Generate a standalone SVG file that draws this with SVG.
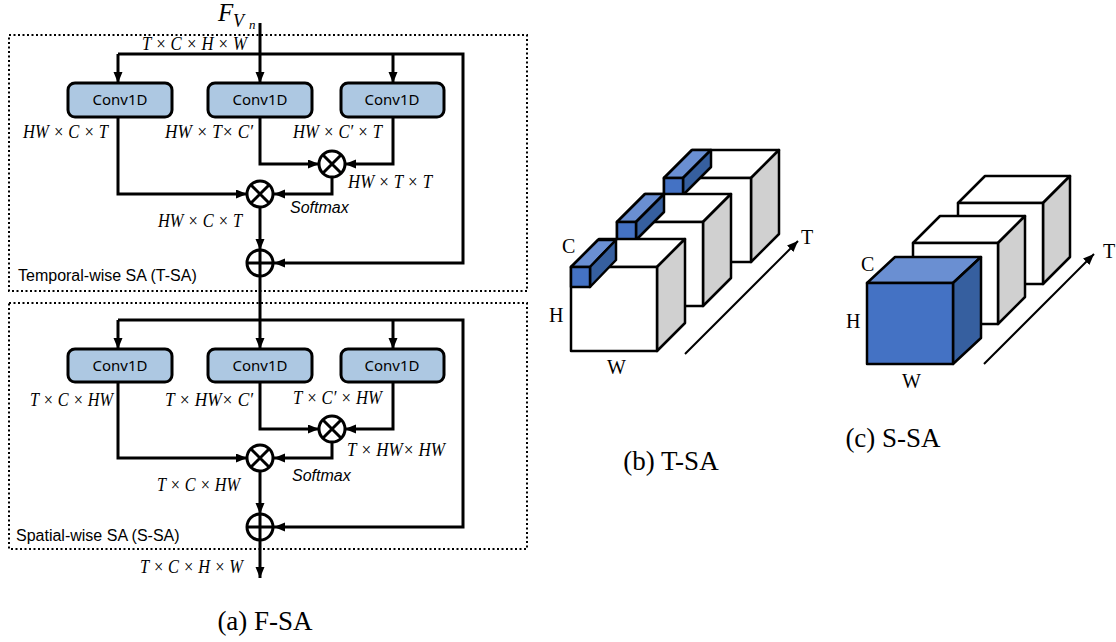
<svg xmlns="http://www.w3.org/2000/svg" width="1116" height="642" viewBox="0 0 1116 642">
<style>
.conv{fill:#adc8e2;stroke:#000;stroke-width:3}
.ct{font-family:"Noto Sans",sans-serif;font-size:15px;text-anchor:middle}
.m{font-family:"Liberation Serif",serif;font-style:italic;font-size:19px}
.sm{font-family:"Liberation Sans",sans-serif;font-style:italic;font-size:16px}
.sec{font-family:"Liberation Sans",sans-serif;font-size:16px}
.cap{font-family:"Liberation Serif",serif;font-size:27px;text-anchor:middle}
.lab{font-family:"Liberation Serif",serif;font-size:20px}
.ln{fill:none;stroke:#000;stroke-width:3}
.op{fill:#fff;stroke:#000;stroke-width:3}
.dot{fill:none;stroke:#000;stroke-width:2;stroke-dasharray:2 2.5}
.cf{fill:#fff;stroke:#000;stroke-width:2.5;stroke-linejoin:round}
.ctop{fill:#fff;stroke:#000;stroke-width:2.5;stroke-linejoin:round}
.cside{fill:#d0d0d0;stroke:#000;stroke-width:2.5;stroke-linejoin:round}
.bf{fill:#4472c4;stroke:#000;stroke-width:2.5;stroke-linejoin:round}
.bt{fill:#6a8fd2;stroke:#000;stroke-width:2.5;stroke-linejoin:round}
.bs{fill:#365f9f;stroke:#000;stroke-width:2.5;stroke-linejoin:round}
</style>
<defs>
<marker id="arr" markerUnits="userSpaceOnUse" markerWidth="12" markerHeight="10" refX="11" refY="4.5" orient="auto">
<path d="M0,0 L11,4.5 L0,9 z" fill="#000"/>
</marker>
<marker id="arr2" markerUnits="userSpaceOnUse" markerWidth="12" markerHeight="10" refX="11" refY="4.5" orient="auto">
<path d="M0,0 L11,4.5 L0,9 z" fill="#000"/>
</marker>
</defs>
<rect width="1116" height="642" fill="#fff"/>

<!-- (a) F-SA -->
<g id="tsa-box">
<rect class="dot" x="9" y="35" width="518" height="256"/>
<text class="sec" x="18" y="281">Temporal-wise SA (T-SA)</text>
</g>
<g id="ssa-box">
<rect class="dot" x="9" y="303" width="518" height="246"/>
<text class="sec" x="16" y="541">Spatial-wise SA (S-SA)</text>
</g>

<g id="input">
<text font-family="Liberation Serif,serif" font-style="italic" font-size="25" x="218" y="21">F</text>
<text font-family="Liberation Serif,serif" font-style="italic" font-size="18" x="233" y="27">V</text>
<text font-family="Liberation Serif,serif" font-style="italic" font-size="13" x="249" y="29">n</text>
</g>

<g id="connectors">
<path class="ln" d="M260,23 V83" marker-end="url(#arr)"/>
<path class="ln" d="M118,54 H463 V263 H274" marker-end="url(#arr)"/>
<path class="ln" d="M118,54 V83" marker-end="url(#arr)"/>
<path class="ln" d="M393,54 V83" marker-end="url(#arr)"/>
<path class="ln" d="M118,117 V194 H247" marker-end="url(#arr)"/>
<path class="ln" d="M260,117 V164 H319" marker-end="url(#arr)"/>
<path class="ln" d="M393,117 V164 H345" marker-end="url(#arr)"/>
<path class="ln" d="M332,177 V194 H274" marker-end="url(#arr)"/>
<path class="ln" d="M260,207 V250" marker-end="url(#arr)"/>
<path class="ln" d="M260,276 V349" marker-end="url(#arr)"/>
<path class="ln" d="M118,320 H463 V527 H274" marker-end="url(#arr)"/>
<path class="ln" d="M118,320 V349" marker-end="url(#arr)"/>
<path class="ln" d="M393,320 V349" marker-end="url(#arr)"/>
<path class="ln" d="M118,382 V458 H247" marker-end="url(#arr)"/>
<path class="ln" d="M260,382 V429 H319" marker-end="url(#arr)"/>
<path class="ln" d="M393,382 V429 H345" marker-end="url(#arr)"/>
<path class="ln" d="M332,442 V458 H274" marker-end="url(#arr)"/>
<path class="ln" d="M260,471 V514" marker-end="url(#arr)"/>
<path class="ln" d="M260,540 V578" marker-end="url(#arr)"/>
</g>

<g id="t-conv1"><rect class="conv" x="68" y="83" width="104" height="34" rx="7"/><text class="ct" x="120" y="105">Conv1D</text></g>
<g id="t-conv2"><rect class="conv" x="208" y="83" width="104" height="34" rx="7"/><text class="ct" x="260" y="105">Conv1D</text></g>
<g id="t-conv3"><rect class="conv" x="341" y="83" width="103" height="34" rx="7"/><text class="ct" x="392" y="105">Conv1D</text></g>
<g id="s-conv1"><rect class="conv" x="68" y="349" width="104" height="33" rx="7"/><text class="ct" x="120" y="371">Conv1D</text></g>
<g id="s-conv2"><rect class="conv" x="208" y="349" width="104" height="33" rx="7"/><text class="ct" x="260" y="371">Conv1D</text></g>
<g id="s-conv3"><rect class="conv" x="341" y="349" width="103" height="33" rx="7"/><text class="ct" x="392" y="371">Conv1D</text></g>

<g id="t-mul1"><circle class="op" cx="332" cy="164" r="13"/><path class="ln" d="M323,155 L341,173 M341,155 L323,173"/></g>
<g id="t-mul2"><circle class="op" cx="260" cy="194" r="13"/><path class="ln" d="M251,185 L269,203 M269,185 L251,203"/></g>
<g id="t-add"><circle class="op" cx="260" cy="263" r="13"/><path class="ln" d="M247,263 H273 M260,250 V276"/></g>
<g id="s-mul1"><circle class="op" cx="332" cy="429" r="13"/><path class="ln" d="M323,420 L341,438 M341,420 L323,438"/></g>
<g id="s-mul2"><circle class="op" cx="260" cy="458" r="13"/><path class="ln" d="M251,449 L269,467 M269,449 L251,467"/></g>
<g id="s-add"><circle class="op" cx="260" cy="527" r="13"/><path class="ln" d="M247,527 H273 M260,514 V540"/></g>

<g id="labels">
<text class="m" x="142" y="50" textLength="105" lengthAdjust="spacingAndGlyphs">T × C × H × W</text>
<text class="m" x="23" y="138" textLength="85" lengthAdjust="spacingAndGlyphs">HW × C × T</text>
<text class="m" x="165" y="138" textLength="88" lengthAdjust="spacingAndGlyphs">HW × T× C′</text>
<text class="m" x="293" y="138" textLength="89" lengthAdjust="spacingAndGlyphs">HW × C′ × T</text>
<text class="m" x="348" y="188" textLength="84" lengthAdjust="spacingAndGlyphs">HW × T × T</text>
<text class="sm" x="290" y="213">Softmax</text>
<text class="m" x="158" y="227" textLength="84" lengthAdjust="spacingAndGlyphs">HW × C × T</text>
<text class="m" x="30" y="406" textLength="83" lengthAdjust="spacingAndGlyphs">T × C × HW</text>
<text class="m" x="165" y="406" textLength="88" lengthAdjust="spacingAndGlyphs">T × HW× C′</text>
<text class="m" x="293" y="404" textLength="89" lengthAdjust="spacingAndGlyphs">T × C′ × HW</text>
<text class="m" x="347" y="456" textLength="98" lengthAdjust="spacingAndGlyphs">T × HW× HW</text>
<text class="sm" x="292" y="481">Softmax</text>
<text class="m" x="157" y="491" textLength="83" lengthAdjust="spacingAndGlyphs">T × C × HW</text>
<text class="m" x="140" y="573" textLength="103" lengthAdjust="spacingAndGlyphs">T × C × H × W</text>
<text class="cap" x="265" y="630">(a) F-SA</text>
</g>

<!-- (b) T-SA -->
<g id="tsa-cube3">
<polygon class="ctop" points="664,178 692,150 779,150 751,178"/>
<polygon class="cside" points="751,178 779,150 779,234 751,262"/>
<rect class="cf" x="664" y="178" width="87" height="84"/>
<polygon class="bt" points="664,178 692,150 711,150 683,178"/>
<polygon class="bs" points="683,178 711,150 711,167 683,195"/>
<rect class="bf" x="664" y="178" width="19" height="17"/>
</g>
<g id="tsa-cube2">
<polygon class="ctop" points="617,222 645,194 731,194 703,222"/>
<polygon class="cside" points="703,222 731,194 731,278 703,306"/>
<rect class="cf" x="617" y="222" width="86" height="84"/>
<polygon class="bt" points="617,222 645,194 664,194 636,222"/>
<polygon class="bs" points="636,222 664,194 664,212 636,240"/>
<rect class="bf" x="617" y="222" width="19" height="18"/>
</g>
<g id="tsa-cube1">
<polygon class="ctop" points="571,267 599,239 685,239 657,267"/>
<polygon class="cside" points="657,267 685,239 685,323 657,351"/>
<rect class="cf" x="571" y="267" width="86" height="84"/>
<polygon class="bt" points="571,267 598,240 616,240 590,267"/>
<polygon class="bs" points="590,267 616,240 616,260 590,287"/>
<rect class="bf" x="571" y="267" width="19" height="20"/>
</g>
<g id="tsa-axis">
<line x1="685" y1="354" x2="798" y2="241" stroke="#000" stroke-width="2" marker-end="url(#arr2)"/>
<text class="lab" x="801" y="244">T</text>
<text class="lab" x="562" y="253">C</text>
<text class="lab" x="549" y="322">H</text>
<text class="lab" x="607" y="374">W</text>
<text class="cap" x="671" y="470">(b) T-SA</text>
</g>

<!-- (c) S-SA -->
<g id="ssa-cube3">
<polygon class="ctop" points="958,203 985,176 1070,176 1043,203"/>
<polygon class="cside" points="1043,203 1070,176 1070,257 1043,284"/>
<rect class="cf" x="958" y="203" width="85" height="81"/>
</g>
<g id="ssa-cube2">
<polygon class="ctop" points="913,243 940,216 1025,216 998,243"/>
<polygon class="cside" points="998,243 1025,216 1025,297 998,324"/>
<rect class="cf" x="913" y="243" width="85" height="81"/>
</g>
<g id="ssa-cube1">
<polygon class="bt" points="867,283 895,257 981,257 953,283"/>
<polygon class="bs" points="953,283 981,257 981,338 953,364"/>
<rect class="bf" x="867" y="283" width="86" height="81"/>
</g>
<g id="ssa-axis">
<line x1="984" y1="364" x2="1094" y2="254" stroke="#000" stroke-width="2" marker-end="url(#arr2)"/>
<text class="lab" x="1103" y="258">T</text>
<text class="lab" x="861" y="271">C</text>
<text class="lab" x="846" y="328">H</text>
<text class="lab" x="902" y="388">W</text>
<text class="cap" x="893" y="447">(c) S-SA</text>
</g>
</svg>
